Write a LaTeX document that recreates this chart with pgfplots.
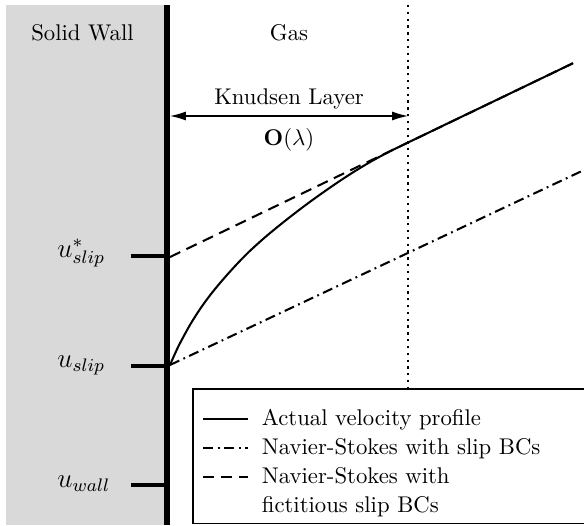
\documentclass[border=0pt]{standalone}
\usepackage{pgfplots}
\pgfplotsset{compat=1.18}
\usetikzlibrary{arrows.meta}
\begin{document}
\begin{tikzpicture}
\begin{axis}[
  name=ax,
  scale only axis, width=256.96pt, height=231pt,
  xmin=0, xmax=584, ymin=0, ymax=525, y dir=reverse,
  axis lines=none, clip=false,
  legend style={at={(axis cs:192,388)}, anchor=north west, draw=black,
    line width=0.7pt, inner xsep=4pt, inner ysep=1.5pt, row sep=0.2pt,
    font=\fontsize{10}{13.2}\selectfont,
    cells={anchor=base west, align=left, text width=136pt, inner ysep=1pt}},
  legend image code/.code={\draw[#1] (0pt,2.6pt) -- (19.8pt,2.6pt); \path (23.5pt,2.6pt);},
]
% solid wall region
\fill[black!15] (axis cs:6,5) rectangle (axis cs:166,525);

% edge of the Knudsen layer
\addplot[black, line width=1pt, dotted, forget plot] coordinates {(408,5) (408,388)};

% actual velocity profile
\addplot[black, line width=0.9pt, smooth] coordinates {
  (170,365.0) (175,353.6) (180,343.2) (190,324.9) (200,309.1) (210,295.3)
  (220,283.0) (230,271.6) (240,260.8) (250,250.8) (265,237.3) (280,224.9)
  (295,213.1) (310,201.8) (325,191.1) (340,180.8) (355,171.1) (370,162.1)
  (385,153.9) (400,146.4) (450,122.3) (500,98.3) (573,63.2)};
\addlegendentry{\rule{0pt}{12.5pt}Actual velocity profile}

% Navier-Stokes, slip boundary condition
\addplot[black, line width=0.9pt, dash pattern=on 4.5pt off 2pt on 0.8pt off 2pt]
  coordinates {(170,365) (584,170)};
\addlegendentry{Navier-Stokes with slip BCs}

% Navier-Stokes, fictitious slip boundary condition
\addplot[black, line width=0.9pt, dash pattern=on 5pt off 3pt]
  coordinates {(170,257) (573,63.2)};
\addlegendentry{Navier-Stokes with}
\addlegendimage{empty legend}
\addlegendentry{fictitious slip BCs}

% wall and velocity levels
\draw[line width=2.9pt] (axis cs:167,5) -- (axis cs:167,525);
\draw[line width=1.8pt] (axis cs:131,256) -- (axis cs:167,256);
\draw[line width=1.8pt] (axis cs:131,366) -- (axis cs:167,366);
\draw[line width=1.8pt] (axis cs:131,485) -- (axis cs:167,485);
\node[anchor=base west, font=\large, inner sep=0pt] at (axis cs:57,257) {$u^*_{slip}$};
\node[anchor=base west, font=\large, inner sep=0pt] at (axis cs:57,367) {$u_{slip}$};
\node[anchor=base west, font=\large, inner sep=0pt] at (axis cs:57,487) {$u_{wall}$};

% region names
\node[anchor=base] at (axis cs:82.5,40) {Solid Wall};
\node[anchor=base] at (axis cs:289,40) {Gas};

% Knudsen layer thickness
\draw[line width=0.6pt, {Latex[length=7pt,width=4pt]}-{Latex[length=7pt,width=4pt]}]
  (axis cs:170,116) -- (axis cs:408,116);
\node[anchor=base] at (axis cs:289,104) {Knudsen Layer};
\node[anchor=base] at (axis cs:289,145) {$\mathbf{O}(\lambda)$};
\end{axis}
% the picture is the frame of the axis
\pgfresetboundingbox
\path[use as bounding box] (ax.south west) rectangle (ax.north east);
\end{tikzpicture}
\end{document}
